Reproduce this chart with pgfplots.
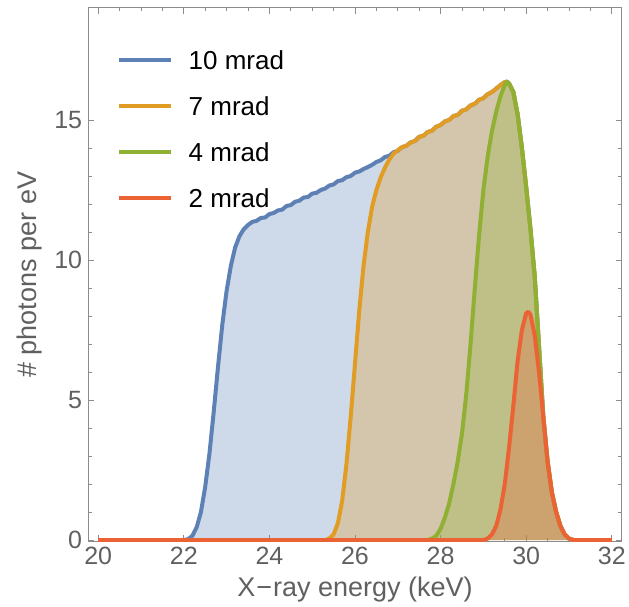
\documentclass[border=0pt]{standalone}
\usepackage{fontspec}
\setmainfont{Liberation Sans}
\usepackage{pgfplots}
\pgfplotsset{compat=1.18}
\definecolor{mblue}{HTML}{5E81B5}
\definecolor{morange}{HTML}{E19C24}
\definecolor{mgreen}{HTML}{8FB032}
\definecolor{mred}{HTML}{EB6235}
\definecolor{framegray}{HTML}{8C8C8C}
\definecolor{labelgray}{HTML}{606060}
\tikzset{curve/.style={line width=4pt, fill opacity=0.3, draw opacity=1, line join=round}}
\begin{document}
\begin{tikzpicture}
\begin{axis}[
  scale only axis, width=533.4pt, height=533.4pt,
  xmin=19.768, xmax=32.232, ymin=-0.05, ymax=19.0,
  xtick={20,22,...,32}, minor x tick num=3,
  ytick={0,5,10,15}, minor y tick num=4,
  tick align=inside,
  major tick length=6pt, minor tick length=3.5pt,
  every tick/.style={draw=framegray, line width=0.9pt},
  axis line style={draw=framegray, line width=1pt},
  /pgf/number format/assume math mode=true,
  tick label style={font=\fontsize{25}{30}\selectfont, text=labelgray, inner sep=0pt},
  yticklabel style={xshift=-6pt},
  xticklabel style={yshift=-5.5pt},
  xlabel={X\kern1pt−\kern1pt ray energy (keV)},
  ylabel={\# photons per eV},
  label style={font=\fontsize{27}{32}\selectfont, text=labelgray, inner sep=0pt},
  xlabel style={at={(axis description cs:0.5,-0.104)}, anchor=base},
  ylabel style={at={(axis description cs:-0.0962,0.5)}, anchor=base, rotate=0},
  legend style={at={(0.0538,0.921)}, anchor=north west, draw=none, fill=none,
    inner sep=0pt, row sep=27pt, column sep=16pt,
    nodes={inner sep=0pt, text height=19pt, text depth=0pt,
      font=\fontsize{26}{31}\selectfont, text=black}},
  legend cell align=left,
  legend image code/.code={\draw[#1, fill=none, line width=3.5pt] (0pt,0pt) -- (52pt,0pt);},
]
\addplot[curve, draw=mblue, fill=mblue] coordinates {
(20,0) (22.0,0) (22.1,0.03) (22.2,0.15) (22.3,0.45) (22.4,1.0) (22.5,1.9) (22.6,3.1) (22.7,4.6) (22.8,6.2) (22.9,7.7) (23.0,8.9) (23.1,9.8) (23.2,10.45) (23.3,10.85) (23.4,11.1) (23.5,11.25) (23.6,11.36) (23.7,11.4) (23.8,11.5) (23.9,11.52) (24.0,11.64) (24.1,11.68) (24.2,11.77) (24.3,11.8) (24.4,11.93) (24.5,11.96) (24.6,12.08) (24.7,12.12) (24.8,12.23) (24.9,12.25) (25.0,12.37) (25.1,12.4) (25.2,12.5) (25.3,12.55) (25.4,12.66) (25.5,12.7) (25.6,12.82) (25.7,12.85) (25.8,12.96) (25.9,13.0) (26.0,13.12) (26.1,13.16) (26.2,13.25) (26.3,13.32) (26.4,13.4) (26.5,13.5) (26.6,13.56) (26.7,13.68) (26.8,13.72) (26.9,13.85) (27.0,13.9) (27.1,14.03) (27.2,14.08) (27.3,14.2) (27.4,14.25) (27.5,14.4) (27.6,14.44) (27.7,14.57) (27.8,14.62) (27.9,14.76) (28.0,14.82) (28.1,14.95) (28.2,15.0) (28.3,15.14) (28.4,15.18) (28.5,15.33) (28.6,15.38) (28.7,15.52) (28.8,15.58) (28.9,15.72) (29.0,15.78) (29.1,15.92) (29.2,16.0) (29.3,16.12) (29.4,16.25) (29.5,16.35) (29.55,16.37) (29.6,16.3) (29.7,16.0) (29.8,15.2) (29.9,14.0) (30.0,12.6) (30.1,11.1) (30.2,9.4) (30.3,6.9) (30.4,4.4) (30.5,2.8) (30.6,1.7) (30.7,1.0) (30.8,0.5) (30.9,0.2) (31.0,0.05) (31.1,0) (32,0)
};
\addlegendentry{10 mrad}
\addplot[curve, draw=morange, fill=morange] coordinates {
(20,0) (25.3,0) (25.4,0.05) (25.5,0.2) (25.6,0.6) (25.7,1.4) (25.8,2.7) (25.9,4.4) (26.0,6.3) (26.1,8.2) (26.2,9.8) (26.3,11.0) (26.4,11.9) (26.5,12.5) (26.6,12.95) (26.7,13.3) (26.8,13.58) (26.9,13.8) (27.0,13.92) (27.1,14.03) (27.2,14.08) (27.3,14.2) (27.4,14.25) (27.5,14.4) (27.6,14.44) (27.7,14.57) (27.8,14.62) (27.9,14.76) (28.0,14.82) (28.1,14.95) (28.2,15.0) (28.3,15.14) (28.4,15.18) (28.5,15.33) (28.6,15.38) (28.7,15.52) (28.8,15.58) (28.9,15.72) (29.0,15.78) (29.1,15.92) (29.2,16.0) (29.3,16.12) (29.4,16.25) (29.5,16.35) (29.55,16.37) (29.6,16.3) (29.7,16.0) (29.8,15.2) (29.9,14.0) (30.0,12.6) (30.1,11.1) (30.2,9.4) (30.3,6.9) (30.4,4.4) (30.5,2.8) (30.6,1.7) (30.7,1.0) (30.8,0.5) (30.9,0.2) (31.0,0.05) (31.1,0) (32,0)
};
\addlegendentry{7 mrad}
\addplot[curve, draw=mgreen, fill=mgreen] coordinates {
(20,0) (27.7,0) (27.8,0.05) (27.9,0.15) (28.0,0.4) (28.1,0.8) (28.2,1.3) (28.3,2.0) (28.4,2.8) (28.5,3.8) (28.6,5.2) (28.7,7.0) (28.8,9.0) (28.9,10.9) (29.0,12.5) (29.1,13.7) (29.2,14.6) (29.3,15.3) (29.4,15.85) (29.5,16.25) (29.55,16.37) (29.6,16.3) (29.7,16.0) (29.8,15.2) (29.9,14.0) (30.0,12.6) (30.1,11.1) (30.2,9.4) (30.3,6.9) (30.4,4.4) (30.5,2.8) (30.6,1.7) (30.7,1.0) (30.8,0.5) (30.9,0.2) (31.0,0.05) (31.1,0) (32,0)
};
\addlegendentry{4 mrad}
\addplot[curve, draw=mred, fill=mred] coordinates {
(20,0) (29.0,0) (29.1,0.05) (29.2,0.2) (29.3,0.5) (29.4,1.1) (29.5,2.0) (29.6,3.3) (29.7,4.8) (29.8,6.4) (29.9,7.5) (30.0,8.1) (30.05,8.15) (30.1,8.05) (30.2,7.3) (30.3,6.0) (30.4,4.4) (30.5,2.8) (30.6,1.7) (30.7,1.0) (30.8,0.5) (30.9,0.2) (31.0,0.05) (31.1,0) (32,0)
};
\addlegendentry{2 mrad}
\end{axis}
\pgfresetboundingbox
\path[use as bounding box] ([shift={(-88.3pt,-64.6pt)}]current axis.south west) rectangle ++(629pt,606pt);
\end{tikzpicture}
\end{document}
